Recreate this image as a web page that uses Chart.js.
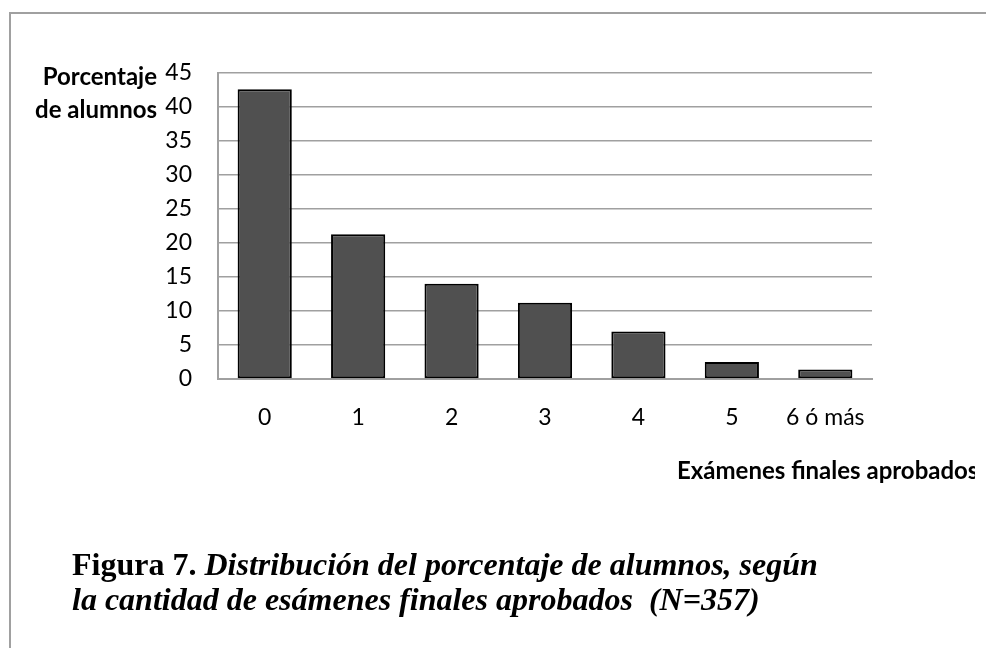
<!DOCTYPE html>
<html>
<head>
<meta charset="utf-8">
<script src="https://cdn.jsdelivr.net/npm/chart.js@4.4.0/dist/chart.umd.min.js"></script>
<style>
    html, body { margin: 0; padding: 0; background: #fff; }
    #wrap { position: relative; width: 986px; height: 648px; overflow: hidden; }
    #frame { position: absolute; left: 9px; top: 12px; width: 990px; height: 700px;
             border-left: 2px solid #a0a0a0; border-top: 2px solid #a0a0a0; }
    canvas { position: absolute; left: 0; top: 0; }
    .lbl { position: absolute; font-family: Lato, 'Open Sans', sans-serif; font-weight: bold;
           font-size: 24px; color: #000; white-space: nowrap; }
    #ytitle { right: 829px; top: 59px; text-align: right; line-height: 33px; }
    #xtitle { left: 677px; top: 455px; width: 298px; line-height: 30px; overflow: hidden; }
    #caption { position: absolute; left: 72px; top: 547px; font-family: 'Liberation Serif', 'Times New Roman', serif;
               font-size: 32px; line-height: 35px; color: #000; white-space: nowrap; }
    #caption i { font-weight: bold; }
</style>
</head>
<body>
<div id="wrap">
    <div id="frame"></div>
    <canvas id="examChart" width="986" height="648"></canvas>
    <div class="lbl" id="ytitle">Porcentaje<br>de alumnos</div>
    <div class="lbl" id="xtitle">Exámenes finales aprobados</div>
    <div id="caption"><b>Figura 7.</b> <i>Distribución del porcentaje de alumnos, según<br>la cantidad de esámenes finales aprobados &nbsp;(N=357)</i></div>
</div>
<script>
const categorias = ['0', '1', '2', '3', '4', '5', '6 ó más'];
const porcentajes = [42.6, 21.3, 14.0, 11.2, 7.0, 2.5, 1.4];
const yMax = 45;
const yPaso = 5;

const fuente = { family: 'Lato, "Open Sans", sans-serif', size: 23 };

new Chart(document.getElementById('examChart'), {
    type: 'bar',
    data: {
        labels: categorias,
        datasets: [{
            data: porcentajes,
            backgroundColor: '#505050',
            borderColor: '#000000',
            borderWidth: 2,
            borderSkipped: false,
            categoryPercentage: 1,
            barPercentage: 0.58
        }]
    },
    options: {
        responsive: false,
        animation: false,
        layout: {
            padding: { top: 73, right: 114, left: 0, bottom: 0 }
        },
        plugins: {
            legend: { display: false },
            tooltip: { enabled: false }
        },
        scales: {
            x: {
                grid: { display: false, drawTicks: false },
                border: { display: true, color: '#a0a0a0', width: 2 },
                ticks: { color: '#000', font: fuente, padding: 25, maxRotation: 0 },
                afterFit: function (scale) { scale.height = 269; }
            },
            y: {
                min: 0,
                max: yMax,
                grid: { color: '#a0a0a0', lineWidth: 1.5, drawTicks: false },
                border: { display: true, color: '#a0a0a0', width: 2 },
                ticks: { color: '#000', font: fuente, padding: 26, stepSize: yPaso },
                afterFit: function (scale) { scale.width = 218; }
            }
        }
    }
});
</script>
</body>
</html>
